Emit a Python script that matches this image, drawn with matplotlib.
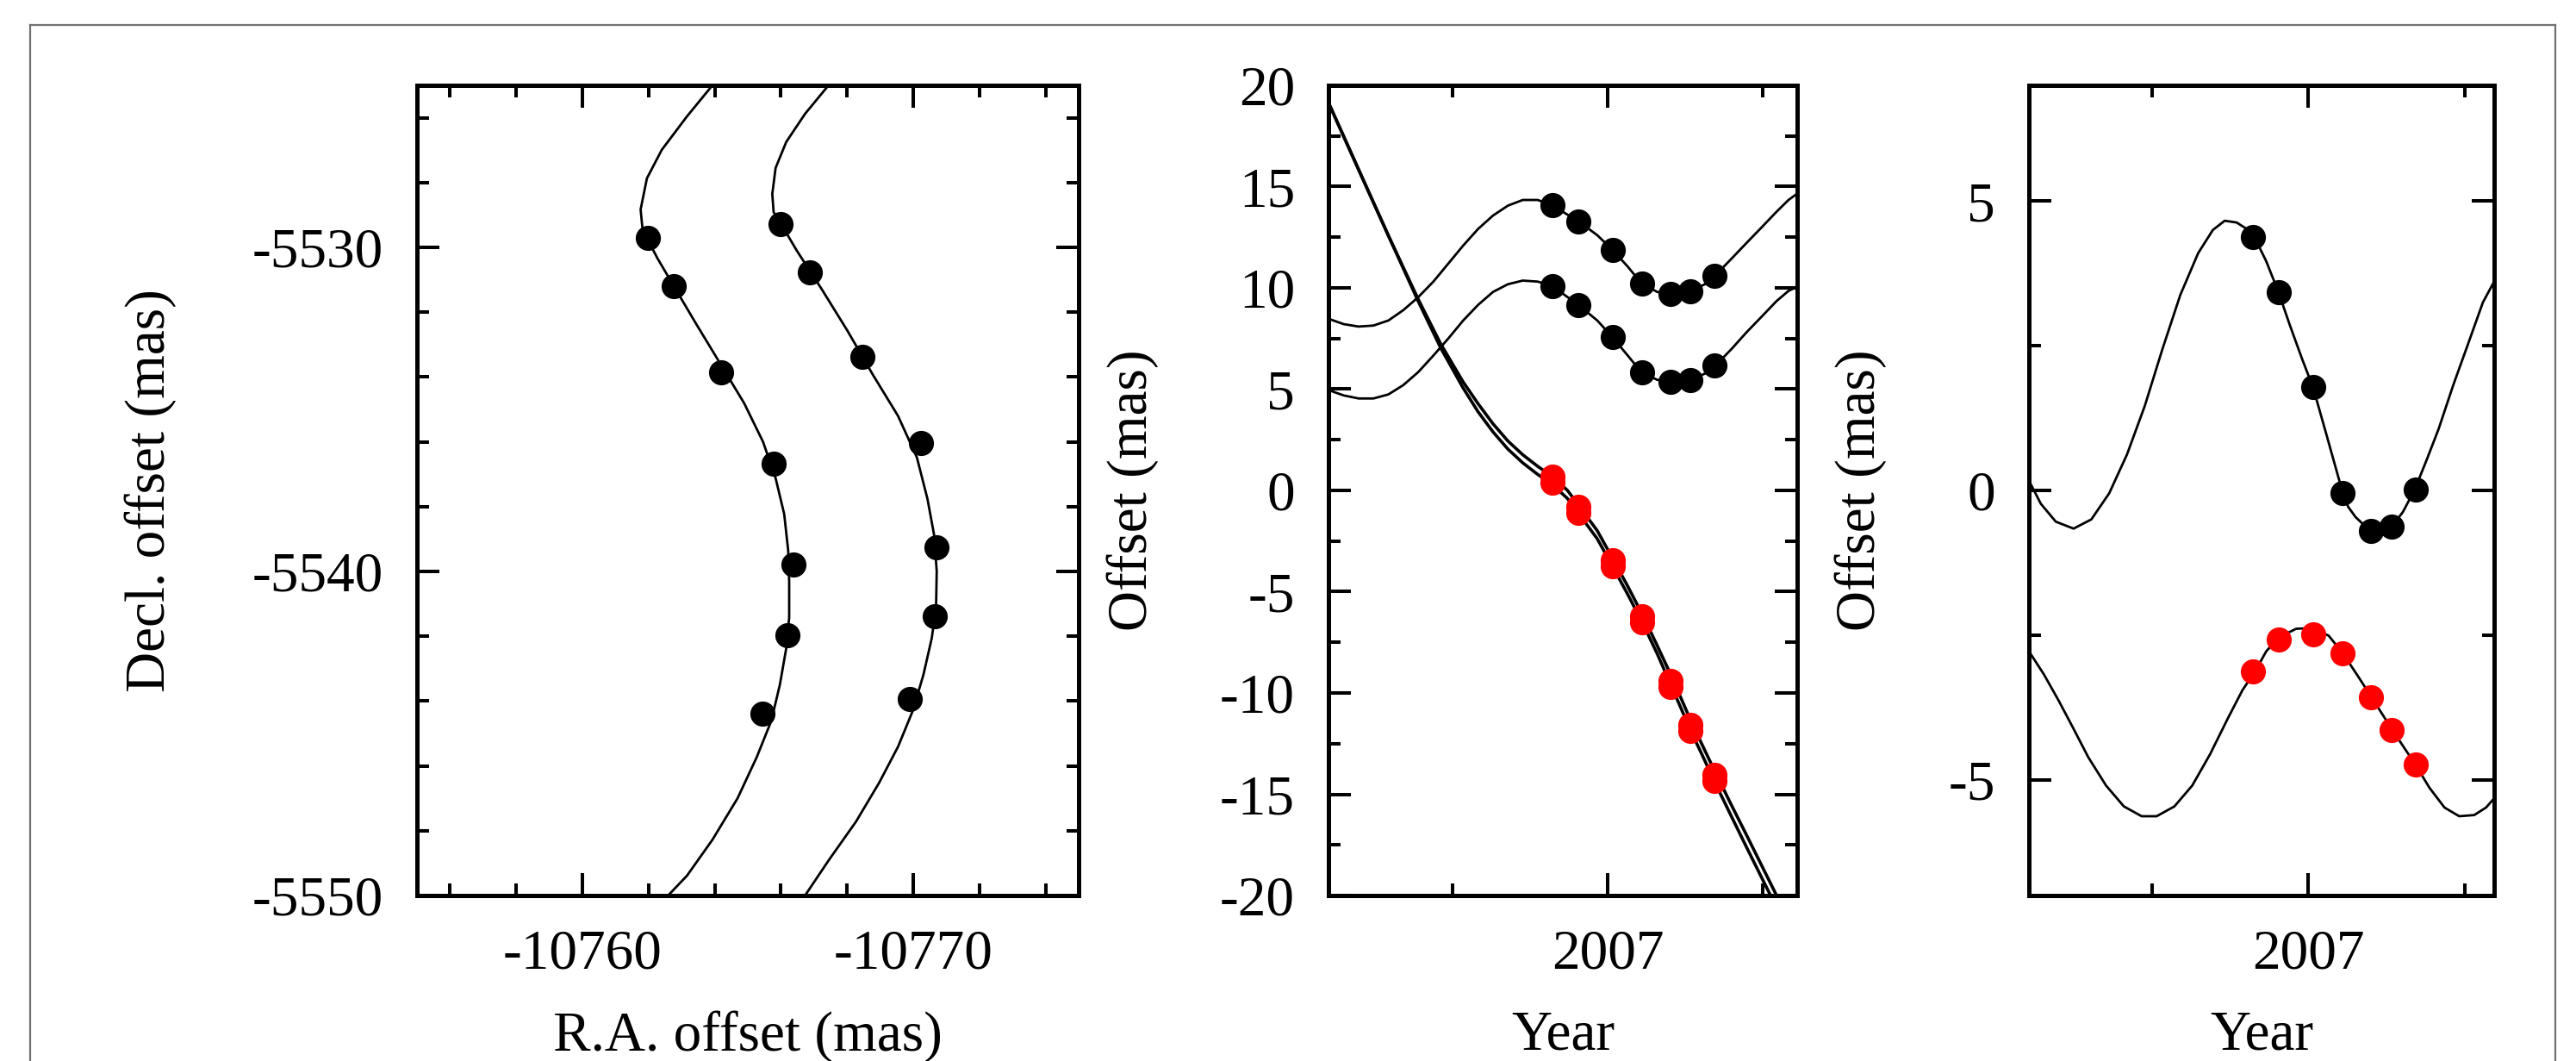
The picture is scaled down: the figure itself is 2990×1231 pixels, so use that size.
import matplotlib
matplotlib.use("Agg")
import matplotlib.pyplot as plt
from matplotlib.ticker import MultipleLocator, FixedLocator, FormatStrFormatter
from matplotlib.lines import Line2D

plt.rcParams['font.family'] = ['Liberation Serif', 'DejaVu Serif']
plt.rcParams['axes.unicode_minus'] = False

# ==========================================
# 1. DATA
# ==========================================
# observing epochs (shared by panels 2 and 3)
epochs = [2006.823, 2006.905, 2007.015, 2007.109, 2007.201, 2007.267, 2007.344]

# panel 1 - sky positions of the two spots
spot1_ra  = [-10761.99, -10762.76, -10764.18, -10765.79, -10766.39, -10766.21, -10765.43]
spot1_dec = [-5529.72, -5531.19, -5533.85, -5536.67, -5539.78, -5541.98, -5544.39]
spot2_ra  = [-10766.00, -10766.87, -10768.47, -10770.23, -10770.71, -10770.65, -10769.90]
spot2_dec = [-5529.27, -5530.76, -5533.37, -5536.05, -5539.25, -5541.39, -5543.94]

model1_ra = [-10763.93, -10763.16, -10762.40, -10761.95, -10761.76, -10761.82, -10762.27,
             -10762.76, -10763.42, -10764.18, -10764.89, -10765.46, -10765.84, -10766.10,
             -10766.22, -10766.25, -10766.25, -10766.16, -10765.97, -10765.71, -10765.27,
             -10764.69, -10763.93, -10763.16, -10762.59]
model1_dec = [-5525.00, -5525.96, -5526.99, -5527.87, -5528.83, -5529.46, -5530.34,
              -5531.19, -5532.33, -5533.61, -5534.81, -5536.00, -5537.12, -5538.23,
              -5539.35, -5540.31, -5541.42, -5542.38, -5543.49, -5544.61, -5545.73,
              -5547.00, -5548.28, -5549.39, -5550.00]
model2_ra = [-10767.44, -10766.73, -10766.16, -10765.84, -10765.74, -10765.78, -10766.00,
             -10766.48, -10767.24, -10768.01, -10768.78, -10769.54, -10770.11, -10770.43,
             -10770.63, -10770.71, -10770.69, -10770.56, -10770.31, -10769.99, -10769.54,
             -10768.97, -10768.27, -10767.44, -10766.73]
model2_dec = [-5525.00, -5525.88, -5526.75, -5527.55, -5528.35, -5528.91, -5529.27,
              -5530.10, -5531.30, -5532.57, -5533.93, -5535.20, -5536.48, -5537.76,
              -5538.87, -5539.99, -5541.10, -5542.06, -5543.18, -5544.29, -5545.41,
              -5546.52, -5547.72, -5548.92, -5550.00]

# panel 2 - offsets vs time (with proper motion)
p2_black_upper = [14.08, 13.29, 11.89, 10.23, 9.72, 9.85, 10.61]
p2_black_lower = [10.10, 9.16, 7.58, 5.84, 5.38, 5.46, 6.15]
p2_red_a = [0.69, -0.82, -3.45, -6.20, -9.39, -11.56, -14.03]
p2_red_b = [0.39, -1.12, -3.75, -6.50, -9.69, -11.86, -14.33]

p2_dec_t = [2006.101, 2006.149, 2006.197, 2006.245, 2006.293, 2006.341, 2006.389, 2006.438,
            2006.486, 2006.534, 2006.582, 2006.630, 2006.678, 2006.726, 2006.774, 2006.820,
            2006.905, 2006.966, 2007.014, 2007.063, 2007.108, 2007.159, 2007.204, 2007.267,
            2007.313, 2007.346, 2007.399, 2007.447, 2007.495, 2007.543, 2007.582, 2007.609]
p2_dec_upper = [8.47, 8.21, 8.09, 8.14, 8.39, 8.90, 9.54, 10.31, 11.20, 12.09, 12.91, 13.57,
                14.06, 14.34, 14.34, 14.08, 13.29, 12.60, 11.89, 11.07, 10.23, 9.80, 9.72,
                9.85, 10.18, 10.61, 11.45, 12.22, 12.98, 13.75, 14.34, 14.64]
p2_dec_lower = [4.95, 4.69, 4.54, 4.54, 4.74, 5.20, 5.84, 6.66, 7.50, 8.39, 9.16, 9.80,
                10.18, 10.36, 10.31, 10.10, 9.16, 8.39, 7.58, 6.68, 5.84, 5.46, 5.38,
                5.46, 5.77, 6.15, 6.99, 7.81, 8.57, 9.34, 9.85, 10.05]

p2_ra_t = [2006.101, 2006.197, 2006.293, 2006.389, 2006.462, 2006.534, 2006.582, 2006.630,
           2006.678, 2006.726, 2006.774, 2006.822, 2006.870, 2006.905, 2006.966, 2007.014,
           2007.063, 2007.112, 2007.159, 2007.207, 2007.269, 2007.303, 2007.346, 2007.399,
           2007.447, 2007.495, 2007.534, 2007.545]
p2_ra_a = [19.11, 15.84, 12.58, 9.44, 7.22, 5.35, 4.28, 3.29, 2.44, 1.76, 1.19, 0.68, 0.00,
           -0.72, -1.99, -3.32, -4.70, -6.15, -7.66, -9.24, -11.43, -12.53, -13.91, -15.56,
           -17.02, -18.50, -19.70, -20.05]
p2_ra_b = [19.11, 15.84, 12.58, 9.34, 7.02, 5.05, 3.88, 2.89, 2.04, 1.36, 0.79, 0.28, -0.40,
           -1.12, -2.39, -3.72, -5.10, -6.55, -8.06, -9.74, -11.93, -13.03, -14.45, -16.12,
           -17.62, -19.10, -20.30, -20.65]

# panel 3 - offsets vs time (proper motion removed)
p3_black = [4.38, 3.43, 1.78, -0.04, -0.70, -0.63, 0.02]
p3_red = [-3.13, -2.58, -2.49, -2.82, -3.58, -4.14, -4.74]

p3_upper_t = [2006.105, 2006.143, 2006.191, 2006.248, 2006.305, 2006.362, 2006.419, 2006.476,
              2006.533, 2006.590, 2006.647, 2006.694, 2006.732, 2006.770, 2006.808, 2006.827,
              2006.865, 2006.904, 2006.941, 2006.980, 2007.015, 2007.056, 2007.084, 2007.110,
              2007.127, 2007.151, 2007.198, 2007.236, 2007.267, 2007.303, 2007.341, 2007.379,
              2007.417, 2007.464, 2007.512, 2007.559, 2007.595]
p3_upper = [0.17, -0.23, -0.54, -0.66, -0.50, -0.05, 0.62, 1.46, 2.45, 3.38, 4.10, 4.50,
            4.66, 4.63, 4.50, 4.38, 3.96, 3.43, 2.85, 2.27, 1.78, 1.00, 0.46, -0.04,
            -0.28, -0.46, -0.70, -0.72, -0.63, -0.37, 0.02, 0.53, 1.06, 1.82, 2.54, 3.25, 3.61]
p3_lower_t = [2006.105, 2006.153, 2006.200, 2006.248, 2006.295, 2006.352, 2006.409, 2006.466,
              2006.514, 2006.571, 2006.628, 2006.685, 2006.742, 2006.789, 2006.829, 2006.865,
              2006.905, 2006.961, 2007.013, 2007.065, 2007.111, 2007.160, 2007.203, 2007.269,
              2007.343, 2007.388, 2007.436, 2007.483, 2007.531, 2007.569, 2007.595]
p3_lower = [-2.78, -3.18, -3.63, -4.12, -4.61, -5.10, -5.46, -5.63, -5.63, -5.46, -5.10,
            -4.56, -3.94, -3.45, -3.13, -2.78, -2.54, -2.39, -2.38, -2.51, -2.82, -3.22,
            -3.58, -4.14, -4.74, -5.14, -5.48, -5.63, -5.61, -5.48, -5.32]

year_ticks = [2007]
year_labels = ['2007']
year_minor = [2006.5, 2007.5]

# ==========================================
# 2. STYLE HELPERS
# ==========================================
TICK_SIZE = 47
LABEL_SIZE = 47
DOT = 21


def style_axes(ax):
    for s in ax.spines.values():
        s.set_linewidth(3.6)
    ax.tick_params(which='both', direction='in', top=True, right=True, width=2.9,
                   labelsize=TICK_SIZE, pad=28, colors='black')
    ax.tick_params(which='major', length=19)
    ax.tick_params(which='minor', length=10)


fig = plt.figure(figsize=(29.9, 12.31), dpi=100)

# grey frame around the figure (left, top, right)
frame_kw = dict(color='#707070', linewidth=1.6, transform=fig.transFigure)
fig.add_artist(Line2D([0.0117, 0.0117], [0.0, 0.9764], **frame_kw))
fig.add_artist(Line2D([0.0117, 0.9920], [0.9764, 0.9764], **frame_kw))
fig.add_artist(Line2D([0.9920, 0.9920], [0.0, 0.9764], **frame_kw))

# ---- panel 1 ----
ax1 = fig.add_axes([0.16187, 0.15597, 0.25686, 0.76361])
ax1.plot(model1_ra, model1_dec, color='black', lw=2.0)
ax1.plot(model2_ra, model2_dec, color='black', lw=2.0)
ax1.plot(spot1_ra, spot1_dec, 'o', color='black', ms=DOT, mew=0, zorder=3)
ax1.plot(spot2_ra, spot2_dec, 'o', color='black', ms=DOT, mew=0, zorder=3)
ax1.set_xlim(-10755, -10775)
ax1.set_ylim(-5550, -5525)
ax1.xaxis.set_major_locator(MultipleLocator(10))
ax1.xaxis.set_minor_locator(MultipleLocator(2))
ax1.yaxis.set_major_locator(MultipleLocator(10))
ax1.yaxis.set_minor_locator(MultipleLocator(2))
ax1.xaxis.set_major_formatter(FormatStrFormatter('%d'))
ax1.yaxis.set_major_formatter(FormatStrFormatter('%d'))
style_axes(ax1)
ax1.set_xlabel('R.A. offset (mas)', fontsize=LABEL_SIZE)
ax1.set_ylabel('Decl. offset (mas)', fontsize=LABEL_SIZE)
ax1.xaxis.set_label_coords(0.5, -0.142)
ax1.yaxis.set_label_coords(-0.363, 0.5)

# ---- panel 2 ----
ax2 = fig.add_axes([0.51572, 0.15597, 0.18194, 0.76361])
ax2.plot(p2_dec_t, p2_dec_upper, color='black', lw=2.0)
ax2.plot(p2_dec_t, p2_dec_lower, color='black', lw=2.0)
ax2.plot(p2_ra_t, p2_ra_a, color='black', lw=2.6)
ax2.plot(p2_ra_t, p2_ra_b, color='black', lw=2.6)
ax2.plot(epochs, p2_black_upper, 'o', color='black', ms=DOT, mew=0, zorder=3)
ax2.plot(epochs, p2_black_lower, 'o', color='black', ms=DOT, mew=0, zorder=3)
ax2.plot(epochs, p2_red_a, 'o', color='#ff0000', ms=DOT, mew=0, zorder=3)
ax2.plot(epochs, p2_red_b, 'o', color='#ff0000', ms=DOT, mew=0, zorder=3)
ax2.set_xlim(2006.10, 2007.61)
ax2.set_ylim(-20, 20)
ax2.set_xticks(year_ticks, year_labels)
ax2.xaxis.set_minor_locator(FixedLocator(year_minor))
ax2.yaxis.set_major_locator(MultipleLocator(5))
ax2.yaxis.set_minor_locator(MultipleLocator(2.5))
ax2.yaxis.set_major_formatter(FormatStrFormatter('%d'))
style_axes(ax2)
ax2.set_xlabel('Year', fontsize=LABEL_SIZE)
ax2.set_ylabel('Offset (mas)', fontsize=LABEL_SIZE)
ax2.xaxis.set_label_coords(0.5, -0.142)
ax2.yaxis.set_label_coords(-0.362, 0.5)

# ---- panel 3 ----
ax3 = fig.add_axes([0.78763, 0.15597, 0.18060, 0.76361])
ax3.plot(p3_upper_t, p3_upper, color='black', lw=2.0)
ax3.plot(p3_lower_t, p3_lower, color='black', lw=2.0)
ax3.plot(epochs, p3_black, 'o', color='black', ms=DOT, mew=0, zorder=3)
ax3.plot(epochs, p3_red, 'o', color='#ff0000', ms=DOT, mew=0, zorder=3)
ax3.set_xlim(2006.105, 2007.595)
ax3.set_ylim(-7, 7)
ax3.set_xticks(year_ticks, year_labels)
ax3.xaxis.set_minor_locator(FixedLocator(year_minor))
ax3.yaxis.set_major_locator(MultipleLocator(5))
ax3.yaxis.set_minor_locator(MultipleLocator(2.5))
ax3.yaxis.set_major_formatter(FormatStrFormatter('%d'))
style_axes(ax3)
ax3.set_xlabel('Year', fontsize=LABEL_SIZE)
ax3.set_ylabel('Offset (mas)', fontsize=LABEL_SIZE)
ax3.xaxis.set_label_coords(0.5, -0.142)
ax3.yaxis.set_label_coords(-0.306, 0.5)

fig.savefig('out.png', dpi=100)
